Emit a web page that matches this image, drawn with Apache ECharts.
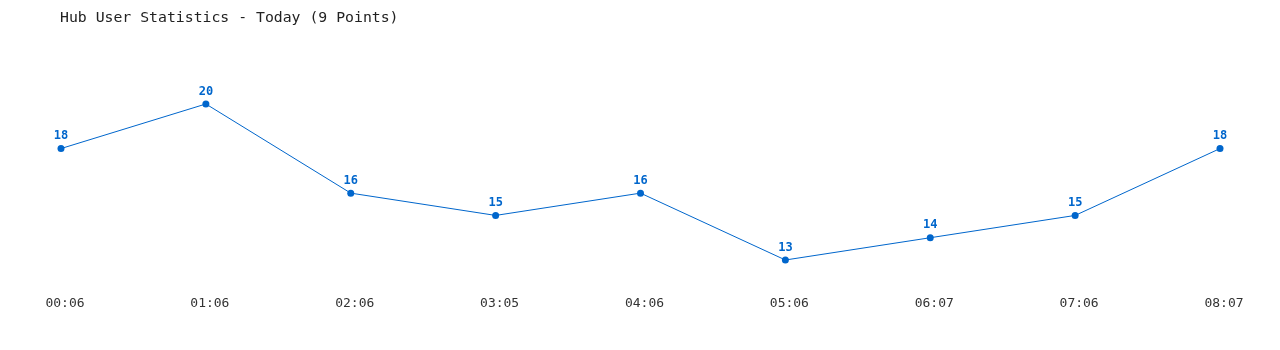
<!DOCTYPE html>
<html>
<head>
<meta charset="utf-8">
<script src="https://cdn.jsdelivr.net/npm/echarts@6/dist/echarts.min.js"></script>
<style>html,body{margin:0;padding:0;background:#fff}#c{width:1280px;height:350px}</style>
</head>
<body>
<div id="c"></div>
<script>
const titleText = 'Hub User Statistics - Today (9 Points)';
const categories = ['00:06','01:06','02:06','03:05','04:06','05:06','06:07','07:06','08:07'];
const users = [18, 20, 16, 15, 16, 13, 14, 15, 18];

const chart = echarts.init(document.getElementById('c'), null, {renderer: 'canvas'});
const mono = '"DejaVu Sans Mono", "Liberation Mono", monospace';
chart.setOption({
  animation: false,
  backgroundColor: '#fff',
  title: {
    text: titleText,
    left: 55, top: 6,
    textStyle: {fontFamily: mono, fontSize: 14.8, fontWeight: 'normal', color: '#222'}
  },
  grid: {left: 61, right: 60, top: 59.4, bottom: 67.7, containLabel: false},
  xAxis: {
    type: 'category', data: categories, boundaryGap: false,
    axisLine: {show: false}, axisTick: {show: false}, splitLine: {show: false},
    axisLabel: {fontFamily: mono, fontSize: 13, color: '#333', margin: 15, padding: [0,0,0,8]}
  },
  yAxis: {
    type: 'value', min: 12, max: 22, interval: 2,
    show: false, splitLine: {show: false}
  },
  series: [{
    type: 'line', data: users,
    symbol: 'circle', symbolSize: 7,
    lineStyle: {color: '#0066cc', width: 1},
    itemStyle: {color: '#0066cc'},
    label: {show: true, position: 'top', distance: 3, fontFamily: mono, fontSize: 12, fontWeight: 'bold', color: '#0066cc'}
  }]
});
</script>
</body>
</html>
